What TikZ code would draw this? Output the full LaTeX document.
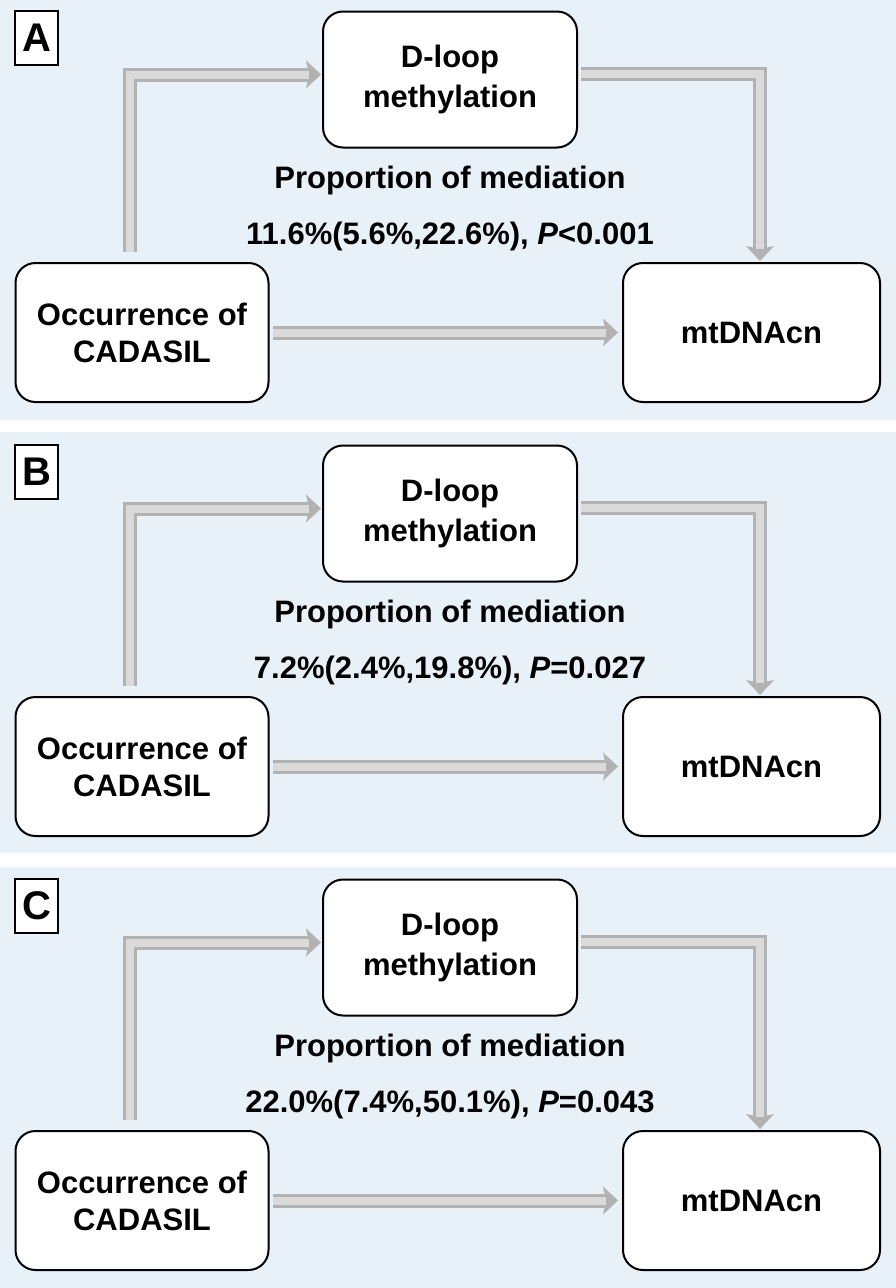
\documentclass[tikz,border=0pt]{standalone}
\usepackage{fontspec}
\setmainfont{Liberation Sans}
\usetikzlibrary{arrows.meta,calc}
\definecolor{panelbg}{RGB}{232,240,248}
\definecolor{arrowgray}{RGB}{178,178,178}
\definecolor{arrowlight}{RGB}{218,218,218}
\tikzset{
  box/.style={draw=black, line width=2pt, fill=white, rounded corners=20pt, align=center,
    font=\fontsize{31}{37}\selectfont\bfseries, inner sep=0pt},
  labelbox/.style={draw=black, line width=1.3pt, fill=white, minimum width=43pt, minimum height=54pt,
    inner sep=0pt, font=\fontsize{40}{44}\selectfont\bfseries},
  txt/.style={font=\fontsize{31}{36}\selectfont\bfseries, inner sep=0pt},
  barrow/.style={draw=arrowgray, line width=14pt, line join=miter,
    -{Stealth[length=15pt,width=28pt,inset=3pt,line width=0pt,fill=arrowgray]},
    postaction={draw=arrowlight, line width=8pt, shorten >=12pt, -}},
}
\begin{document}
\begin{tikzpicture}[x=1pt,y=-1pt]
\useasboundingbox (0,0) rectangle (896,1288);
\fill[white] (0,0) rectangle (896,1288);
\fill[panelbg] (0,0) rectangle (896,420);
\fill[panelbg] (0,432) rectangle (896,853);
\fill[panelbg] (0,867) rectangle (896,1288);
\foreach \p/\oy/\val in {A/0/{11.6\%(5.6\%,22.6\%), \textit{P}<0.001},
                         B/434/{7.2\%(2.4\%,19.8\%), \textit{P}=0.027},
                         C/868/{22.0\%(7.4\%,50.1\%), \textit{P}=0.043}}{
  \begin{scope}[shift={(0,\oy)}]
    \node[labelbox] (lab\p) at (36.5,38) {\p};
    \node[box, minimum width=254pt, minimum height=136pt, font=\fontsize{31}{40}\selectfont\bfseries] (dl\p) at (450,79.5) {D-loop\\methylation};
    \node[box, minimum width=253pt, minimum height=139pt] (occ\p) at (142,332.5) {Occurrence of\\CADASIL};
    \node[box, minimum width=257pt, minimum height=139pt] (mt\p) at (751.5,332.5) {mtDNAcn};
    \node[txt] (prop\p) at (450,180) {Proportion of mediation};
    \node[txt] (val\p) at (450,236) {\val};
    \draw[barrow] ($(occ\p.north west)+(115.5,-10)$) |- ($(dl\p.west)+(-1,-5)$);
    \draw[barrow] ($(dl\p.east)+(3,-6)$) -| ($(mt\p.north)+(8.5,-1)$);
    \draw[barrow] ($(occ\p.east)+(3,0)$) -- ($(mt\p.west)+(-4,0)$);
  \end{scope}
}
\end{tikzpicture}
\end{document}
